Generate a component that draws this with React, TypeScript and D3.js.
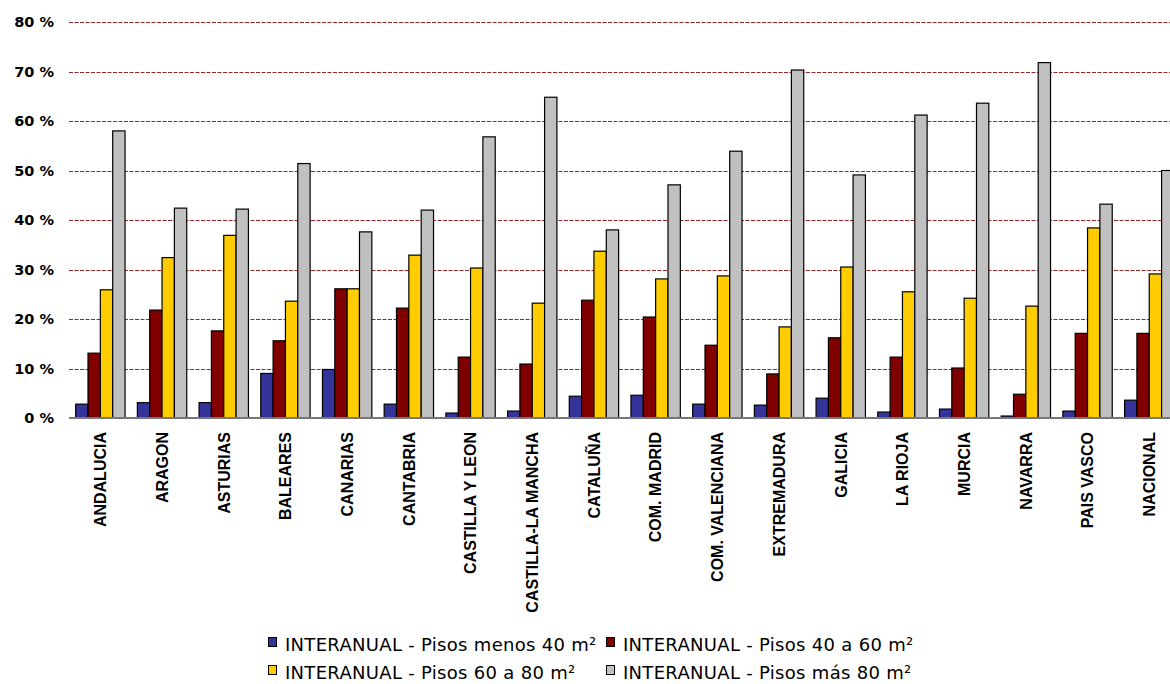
import React from "react";
import * as d3 from "d3";

const categories = [
  "ANDALUCIA", "ARAGON", "ASTURIAS", "BALEARES", "CANARIAS", "CANTABRIA",
  "CASTILLA Y LEON", "CASTILLA-LA MANCHA", "CATALUÑA", "COM. MADRID",
  "COM. VALENCIANA", "EXTREMADURA", "GALICIA", "LA RIOJA", "MURCIA",
  "NAVARRA", "PAIS VASCO", "NACIONAL",
];

const seriesNames = [
  "INTERANUAL - Pisos menos 40 m²",
  "INTERANUAL - Pisos 40 a 60 m²",
  "INTERANUAL - Pisos 60 a 80 m²",
  "INTERANUAL - Pisos más 80 m²",
];

const menos40 = [2.8, 3.1, 3.1, 9.0, 9.8, 2.8, 1.0, 1.4, 4.4, 4.6, 2.8, 2.6, 4.0, 1.2, 1.8, 0.4, 1.4, 3.6];
const de40a60 = [13.1, 21.8, 17.6, 15.6, 26.1, 22.2, 12.3, 10.9, 23.8, 20.4, 14.7, 8.9, 16.2, 12.3, 10.1, 4.8, 17.1, 17.1];
const de60a80 = [25.9, 32.4, 36.9, 23.6, 26.1, 32.9, 30.3, 23.2, 33.7, 28.1, 28.7, 18.4, 30.5, 25.5, 24.2, 22.6, 38.4, 29.1];
const mas80 = [58.0, 42.4, 42.2, 51.4, 37.6, 42.0, 56.8, 64.8, 38.0, 47.1, 53.9, 70.3, 49.1, 61.2, 63.6, 71.8, 43.2, 50.0];

const yTicks = [0, 10, 20, 30, 40, 50, 60, 70, 80];
const colors = ["#333399", "#800000", "#FFCC00", "#C0C0C0"];

const W = 1170;
const H = 684;

export default function App() {
  const series = [menos40, de40a60, de60a80, mas80];
  const x0 = d3
    .scaleBand<string>()
    .domain(categories)
    .range([69, 69 + 61.7 * 18])
    .paddingInner(0.2)
    .paddingOuter(0.1);
  const x1 = d3
    .scaleBand<number>()
    .domain([0, 1, 2, 3])
    .range([0, x0.bandwidth()])
    .padding(0);
  const y = d3.scaleLinear().domain([0, 80]).range([418, 22]);

  const legendItems = [
    { i: 0, x: 268, y: 651 },
    { i: 1, x: 606, y: 651 },
    { i: 2, x: 268, y: 679 },
    { i: 3, x: 606, y: 679 },
  ];

  return (
    <svg
      width={W}
      height={H}
      style={{ position: "absolute", left: 0, top: 0, background: "#fff" }}
    >
      <rect x={0} y={0} width={W} height={H} fill="#fff" />
      {yTicks.map((t) =>
        t === 0 ? null : (
          <line
            key={"g" + t}
            x1={69}
            x2={W}
            y1={Math.round(y(t)) + 0.5}
            y2={Math.round(y(t)) + 0.5}
            stroke="#8b0000"
            strokeOpacity={0.85}
            strokeWidth={1.2}
            strokeDasharray="4,1.5"
          />
        )
      )}
      {yTicks.map((t) => (
        <text
          key={"t" + t}
          x={54}
          y={y(t)}
          dy="0.36em"
          textAnchor="end"
          fontFamily="'DejaVu Sans', Verdana, sans-serif"
          fontWeight="bold"
          fontSize={14.5}
          fill="#000"
        >
          {t} %
        </text>
      ))}
      {categories.map((c, ci) => (
        <g key={c} transform={`translate(${x0(c)},0)`}>
          {series.map((s, si) => (
            <rect
              key={si}
              x={(x1(si) as number) + 0.5}
              y={y(s[ci])}
              width={x1.bandwidth()}
              height={y(0) - y(s[ci])}
              fill={colors[si]}
              stroke="#000"
              strokeWidth={1.2}
            />
          ))}
        </g>
      ))}
      <line x1={69} x2={W} y1={418} y2={418} stroke="#777" strokeWidth={2} />
      {categories.map((c) => {
        const cx = (x0(c) as number) + x0.bandwidth() / 2 + 6.3;
        return (
          <text
            key={"l" + c}
            transform={`translate(${cx},432) rotate(-90)`}
            textAnchor="end"
            fontFamily="'Liberation Sans', Arial, sans-serif"
            fontWeight="bold"
            fontSize={16}
            fill="#000"
          >
            {c}
          </text>
        );
      })}
      {legendItems.map((it) => (
        <g key={"lg" + it.i}>
          <rect
            x={it.x + 0.5}
            y={it.y - 13.5}
            width={8}
            height={9}
            fill={colors[it.i]}
            stroke="#000"
            strokeWidth={1}
          />
          <text
            x={it.x + 17}
            y={it.y}
            fontFamily="'DejaVu Sans', Verdana, sans-serif"
            fontSize={18}
            letterSpacing={0.3}
            fill="#000"
          >
            {seriesNames[it.i]}
          </text>
        </g>
      ))}
    </svg>
  );
}
